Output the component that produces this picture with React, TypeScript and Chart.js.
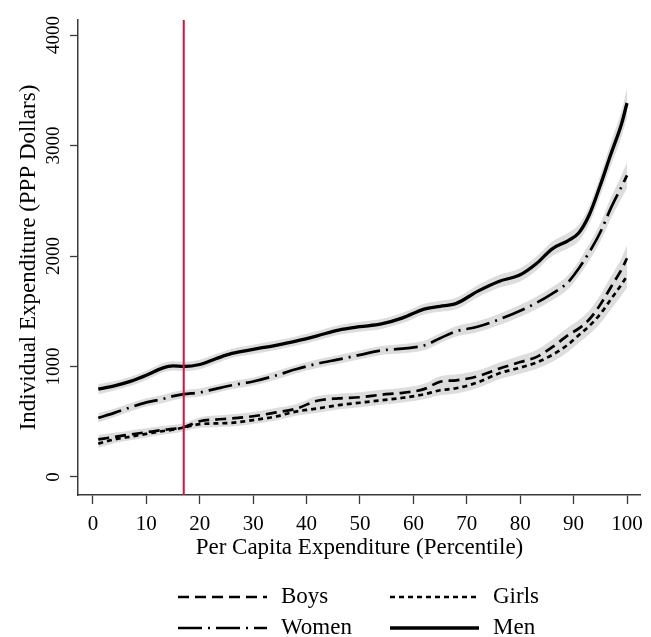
import React, { useEffect, useRef } from "react";
import { Chart, registerables } from "chart.js";

Chart.register(...registerables);

const WIDTH = 651;
const HEIGHT = 637;
const SERIF = '"Liberation Serif", "Times New Roman", Times, serif';

// Household per-capita expenditure percentile (x) and individual expenditure in PPP dollars (y)
const percentiles = [1, 4, 7, 10, 13, 15, 17, 20, 23, 26, 30, 34, 38, 42, 46, 50, 54, 58, 62, 65, 68, 72, 76, 80, 83, 86, 89, 91, 93, 95, 97, 99, 100];
const menSpend = [795, 825, 865, 920, 985, 1005, 1000, 1018, 1070, 1118, 1155, 1190, 1230, 1278, 1330, 1360, 1385, 1440, 1520, 1545, 1570, 1680, 1770, 1830, 1930, 2065, 2140, 2210, 2380, 2640, 2925, 3200, 3385];
const womenSpend = [535, 580, 630, 675, 705, 732, 750, 765, 798, 830, 864, 915, 975, 1025, 1064, 1105, 1145, 1162, 1190, 1256, 1318, 1360, 1425, 1505, 1575, 1660, 1765, 1890, 2040, 2215, 2435, 2630, 2730];
const boysSpend = [340, 362, 385, 405, 425, 435, 450, 505, 520, 530, 550, 582, 618, 690, 712, 722, 745, 762, 795, 862, 875, 910, 980, 1040, 1085, 1175, 1285, 1345, 1430, 1560, 1720, 1880, 1980];
const girlsSpend = [302, 340, 365, 390, 415, 428, 448, 478, 485, 490, 515, 545, 592, 620, 650, 672, 694, 717, 748, 785, 803, 855, 937, 990, 1035, 1105, 1200, 1285, 1370, 1475, 1610, 1745, 1820];

// Half-widths of the confidence bands
const menBand = [46, 42, 42, 42, 42, 42, 42, 42, 42, 42, 42, 42, 42, 43, 43, 45, 45, 47, 49, 50, 52, 55, 58, 60, 63, 66, 70, 75, 82, 92, 105, 118, 132];
const womenBand = [42, 38, 37, 37, 37, 37, 37, 37, 37, 37, 37, 38, 38, 38, 39, 40, 40, 42, 43, 45, 47, 49, 51, 54, 56, 60, 64, 68, 75, 84, 95, 106, 116];
const boysBand = [42, 38, 36, 36, 36, 36, 36, 36, 36, 38, 38, 40, 40, 42, 42, 44, 44, 46, 48, 50, 52, 53, 55, 58, 62, 66, 70, 75, 81, 88, 96, 105, 115];
const girlsBand = [38, 34, 33, 33, 33, 33, 33, 33, 34, 34, 36, 36, 38, 38, 39, 40, 41, 42, 44, 46, 48, 50, 52, 55, 58, 62, 66, 70, 76, 83, 92, 100, 108];

const xTickValues = [0, 10, 20, 30, 40, 50, 60, 70, 80, 90, 100];
const yTickValues = [0, 1000, 2000, 3000, 4000];
const povertyPercentile = 17;

const seriesList = [
  { label: "Boys", values: boysSpend, band: boysBand, dash: [11, 6], width: 2.7 },
  { label: "Girls", values: girlsSpend, band: girlsBand, dash: [5, 4], width: 2.7 },
  { label: "Women", values: womenSpend, band: womenBand, dash: [24, 6, 2, 6], width: 2.7 },
  { label: "Men", values: menSpend, band: menBand, dash: [], width: 3.3 },
];

const toPoints = (vals: number[]) => percentiles.map((p, i) => ({ x: p, y: vals[i] }));

const povertyLinePlugin = {
  id: "povertyLine",
  afterDatasetsDraw(chart: any) {
    const { ctx, chartArea, scales } = chart;
    const x = scales.x.getPixelForValue(povertyPercentile);
    ctx.save();
    ctx.strokeStyle = "#cf1446";
    ctx.lineWidth = 2;
    ctx.beginPath();
    ctx.moveTo(x, chartArea.top);
    ctx.lineTo(x, chartArea.bottom);
    ctx.stroke();
    ctx.restore();
  },
};

const pairLegendPlugin = {
  id: "pairLegend",
  afterDraw(chart: any) {
    const { ctx } = chart;
    const cols = [178, 390];
    const rows = [597, 628];
    const sampleLen = 89;
    const items = chart.data.datasets.filter((d: any) => d.legendSlot !== undefined);
    ctx.save();
    ctx.font = `23px ${SERIF}`;
    ctx.fillStyle = "#000";
    ctx.textBaseline = "middle";
    ctx.textAlign = "left";
    items.forEach((d: any) => {
      const x0 = cols[d.legendSlot % 2];
      const y = rows[Math.floor(d.legendSlot / 2)];
      ctx.strokeStyle = "#000";
      ctx.lineWidth = d.borderWidth;
      ctx.setLineDash(d.borderDash || []);
      ctx.beginPath();
      ctx.moveTo(x0, y);
      ctx.lineTo(x0 + sampleLen, y);
      ctx.stroke();
      ctx.setLineDash([]);
      ctx.fillText(d.label, x0 + sampleLen + 14, y);
    });
    ctx.restore();
  },
};

export default function App() {
  const canvasRef = useRef<HTMLCanvasElement | null>(null);

  useEffect(() => {
    if (!canvasRef.current) return;
    const datasets: any[] = [];
    seriesList.forEach((s, idx) => {
      datasets.push({
        label: s.label,
        legendSlot: idx,
        data: toPoints(s.values),
        borderColor: "#000",
        borderWidth: s.width,
        borderDash: s.dash,
        borderCapStyle: "butt",
        pointRadius: 0,
        fill: false,
        cubicInterpolationMode: "monotone",
        order: 0,
      });
    });
    seriesList.forEach((s) => {
      const upperIndex = datasets.length;
      datasets.push({
        label: s.label + " upper",
        data: toPoints(s.values.map((v, i) => v + s.band[i])),
        borderWidth: 0,
        borderColor: "rgba(0,0,0,0)",
        backgroundColor: "#dddddd",
        pointRadius: 0,
        cubicInterpolationMode: "monotone",
        fill: upperIndex + 1,
        order: 5,
      });
      datasets.push({
        label: s.label + " lower",
        data: toPoints(s.values.map((v, i) => v - s.band[i])),
        borderWidth: 0,
        borderColor: "rgba(0,0,0,0)",
        pointRadius: 0,
        cubicInterpolationMode: "monotone",
        fill: false,
        order: 5,
      });
    });

    const axisColor = "#3a3a3a";
    const chart = new Chart(canvasRef.current, {
      type: "line",
      data: { datasets },
      options: {
        animation: false,
        responsive: false,
        devicePixelRatio: 1,
        layout: { padding: { top: 20, right: 10, bottom: 75, left: 0 } },
        plugins: {
          legend: { display: false },
          tooltip: { enabled: false },
        },
        scales: {
          x: {
            type: "linear",
            min: -2.8,
            max: 102.6,
            afterBuildTicks: (scale: any) => {
              scale.ticks = xTickValues.map((v) => ({ value: v }));
            },
            afterFit: (scale: any) => {
              scale.height = 67;
            },
            ticks: {
              autoSkip: false,
              maxRotation: 0,
              padding: 8,
              color: "#000",
              font: { family: SERIF, size: 21 },
              callback: (v: any) => String(v),
            },
            grid: {
              display: true,
              drawOnChartArea: false,
              drawTicks: true,
              tickLength: 9,
              tickColor: axisColor,
              tickWidth: 1.3,
            },
            border: { display: true, color: axisColor, width: 1.5 },
            title: {
              display: true,
              text: "Per Capita Expenditure (Percentile)",
              color: "#000",
              font: { family: SERIF, size: 23 },
              padding: { top: 0, bottom: 0 },
            },
          },
          y: {
            type: "linear",
            min: -163,
            max: 4136,
            afterBuildTicks: (scale: any) => {
              scale.ticks = yTickValues.map((v) => ({ value: v }));
            },
            afterFit: (scale: any) => {
              scale.width = 78;
            },
            ticks: {
              autoSkip: false,
              minRotation: 90,
              maxRotation: 90,
              crossAlign: "center",
              padding: -3,
              color: "#000",
              font: { family: SERIF, size: 19 },
              callback: (v: any) => String(v),
            },
            grid: {
              display: true,
              drawOnChartArea: false,
              drawTicks: true,
              tickLength: 8,
              tickColor: axisColor,
              tickWidth: 1.3,
            },
            border: { display: true, color: axisColor, width: 1.5 },
            title: {
              display: true,
              text: "Individual Expenditure (PPP Dollars)",
              color: "#000",
              font: { family: SERIF, size: 23 },
              padding: { top: 15, bottom: 0 },
            },
          },
        },
      } as any,
      plugins: [povertyLinePlugin, pairLegendPlugin],
    });
    return () => chart.destroy();
  }, []);

  return (
    <div style={{ position: "absolute", left: 0, top: 0, width: WIDTH, height: HEIGHT, background: "#fff" }}>
      <canvas ref={canvasRef} width={WIDTH} height={HEIGHT} />
    </div>
  );
}
